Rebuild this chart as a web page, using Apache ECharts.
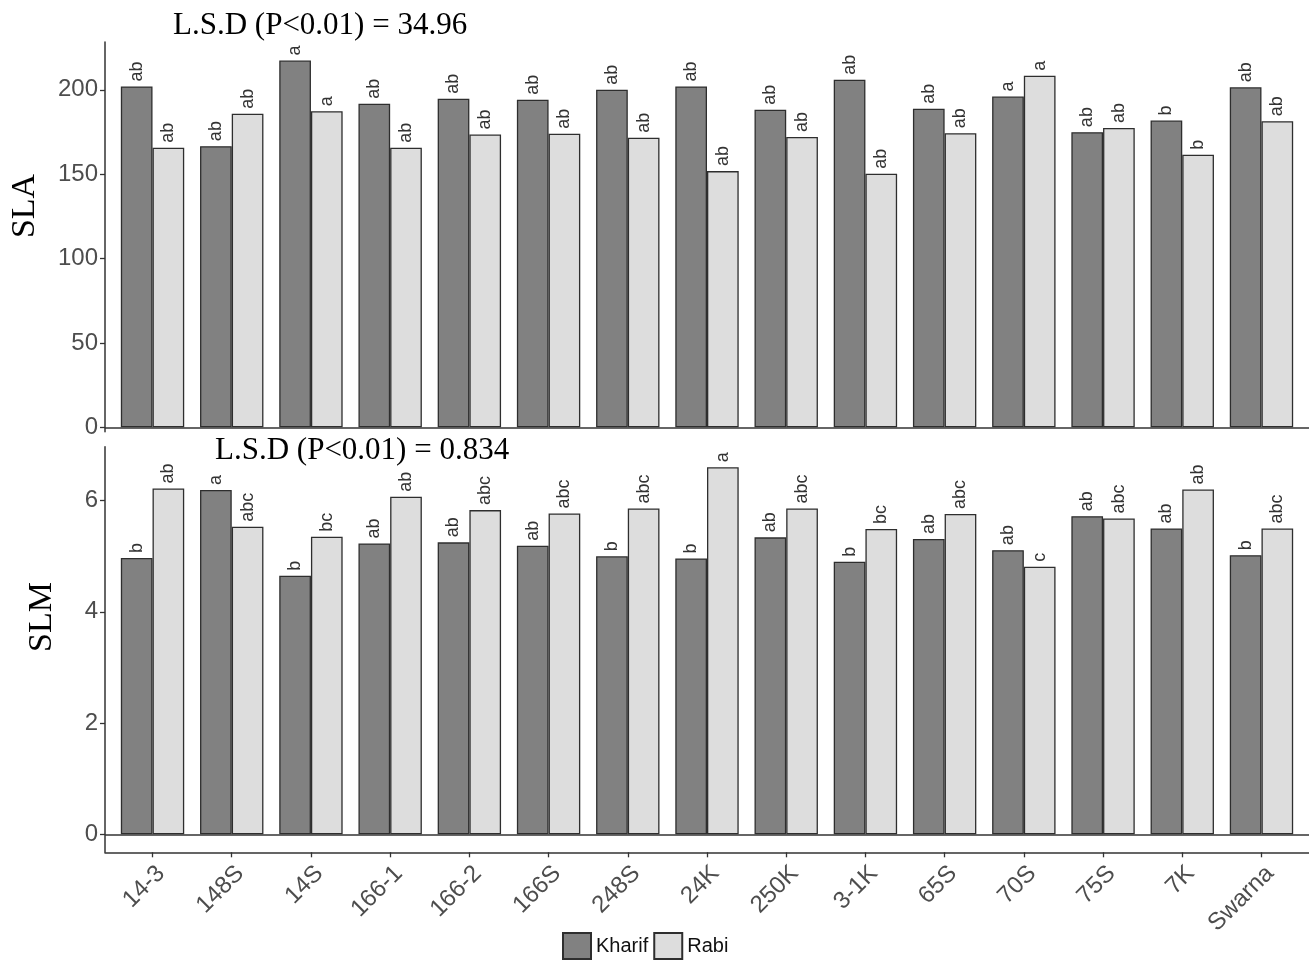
<!DOCTYPE html>
<html>
<head>
<meta charset="utf-8">
<script src="https://cdn.jsdelivr.net/npm/echarts@6/dist/echarts.min.js"></script>
<style>
  html, body { margin: 0; padding: 0; background: #fff; }
  #chart { width: 1309px; height: 960px; }
</style>
</head>
<body>
<div id="chart"></div>
<script>
// 品种
const categories = ['14-3', '148S', '14S', '166-1', '166-2', '166S', '248S', '24K', '250K', '3-1K', '65S', '70S', '75S', '7K', 'Swarna'];

// SLA (上图)
const slaKharif = [202, 166.6, 217.3, 191.7, 194.7, 194.1, 200, 202, 188.2, 205.9, 188.8, 196, 174.9, 181.8, 201.5];
const slaRabi = [165.7, 185.8, 187.3, 165.7, 173.5, 174, 171.6, 151.8, 172, 150.3, 174.3, 208.3, 177.3, 161.5, 181.4];
const slaKharifLetters = ['ab', 'ab', 'a', 'ab', 'ab', 'ab', 'ab', 'ab', 'ab', 'ab', 'ab', 'a', 'ab', 'b', 'ab'];
const slaRabiLetters = ['ab', 'ab', 'a', 'ab', 'ab', 'ab', 'ab', 'ab', 'ab', 'ab', 'ab', 'a', 'ab', 'b', 'ab'];
const slaTicks = [0, 50, 100, 150, 200];

// SLM (下图)
const slmKharif = [4.97, 6.19, 4.65, 5.23, 5.25, 5.19, 5.0, 4.96, 5.34, 4.90, 5.31, 5.11, 5.72, 5.50, 5.02];
const slmRabi = [6.22, 5.53, 5.35, 6.07, 5.83, 5.77, 5.86, 6.6, 5.86, 5.49, 5.76, 4.81, 5.68, 6.20, 5.50];
const slmKharifLetters = ['b', 'a', 'b', 'ab', 'ab', 'ab', 'b', 'b', 'ab', 'b', 'ab', 'ab', 'ab', 'ab', 'b'];
const slmRabiLetters = ['ab', 'abc', 'bc', 'ab', 'abc', 'abc', 'abc', 'a', 'abc', 'bc', 'abc', 'c', 'abc', 'ab', 'abc'];
const slmTicks = [0, 2, 4, 6];

const seasons = ['Kharif', 'Rabi'];
const seasonColors = { Kharif: '#818181', Rabi: '#dddddd' };

const SANS = '"Liberation Sans", Arial, sans-serif';
const SERIF = '"Liberation Serif", "Times New Roman", serif';
const AXIS_COLOR = '#333';

const chart = echarts.init(document.getElementById('chart'));

function barSeries(name, values, letters, gridIdx, withZeroLine) {
    const s = {
        name: name,
        type: 'bar',
        xAxisIndex: gridIdx,
        yAxisIndex: gridIdx,
        data: values.map((v, i) => [i, v]),
        barWidth: 31.7,
        barGap: '0%',
        itemStyle: { color: seasonColors[name], borderColor: '#2e2e2e', borderWidth: 1.3 },
        label: {
            show: true,
            position: 'top',
            rotate: 90,
            align: 'left',
            verticalAlign: 'middle',
            distance: 5,
            fontFamily: SANS,
            fontSize: 18,
            color: '#333',
            formatter: p => letters[p.dataIndex]
        }
    };
    // 0 处的横线
    if (withZeroLine) {
        s.markLine = {
            silent: true,
            symbol: 'none',
            label: { show: false },
            lineStyle: { color: AXIS_COLOR, width: 1.5, type: 'solid' },
            data: [{ yAxis: 0 }]
        };
    }
    return s;
}

function yAxisFor(gridIdx, min, max, ticks) {
    return {
        type: 'value',
        gridIndex: gridIdx,
        min: min,
        max: max,
        splitLine: { show: false },
        axisLine: { show: true, onZero: false, lineStyle: { color: AXIS_COLOR, width: 1.5 } },
        axisTick: { show: true, length: 5, customValues: ticks, lineStyle: { color: AXIS_COLOR, width: 1.3 } },
        axisLabel: { customValues: ticks, fontFamily: SANS, fontSize: 24, color: '#4d4d4d', margin: 7 }
    };
}

const catIdx = categories.map((c, i) => i);

const option = {
    animation: false,
    backgroundColor: '#fff',
    title: [
        { text: 'L.S.D (P<0.01) = 34.96', left: 173, top: 10, padding: 0,
          textStyle: { fontFamily: SERIF, fontSize: 31, fontWeight: 'normal', color: '#000' } },
        { text: 'L.S.D (P<0.01) = 0.834', left: 215, top: 435, padding: 0,
          textStyle: { fontFamily: SERIF, fontSize: 31, fontWeight: 'normal', color: '#000' } }
    ],
    graphic: [
        { type: 'text', x: 25, y: 206, rotation: Math.PI / 2,
          style: { text: 'SLA', font: '34px ' + SERIF, fill: '#000', align: 'center', verticalAlign: 'middle' } },
        { type: 'text', x: 42, y: 617, rotation: Math.PI / 2,
          style: { text: 'SLM', font: '34px ' + SERIF, fill: '#000', align: 'center', verticalAlign: 'middle' } }
    ],
    legend: {
        data: seasons,
        left: 562,
        top: 932,
        padding: 0,
        itemWidth: 28,
        itemHeight: 26,
        itemGap: 5,
        icon: 'rect',
        textStyle: { fontFamily: SANS, fontSize: 20, color: '#111' }
    },
    grid: [
        { left: 105, right: 0, top: 42, bottom: 960 - 431.7 },
        { left: 105, right: 0, top: 446.7, bottom: 960 - 852.3 }
    ],
    xAxis: [
        { type: 'value', gridIndex: 0, min: -0.6, max: 14.6, show: false },
        {
            type: 'value',
            gridIndex: 1,
            min: -0.6,
            max: 14.6,
            splitLine: { show: false },
            axisLine: { show: true, onZero: false, lineStyle: { color: AXIS_COLOR, width: 1.5 } },
            axisTick: { show: true, length: 5, customValues: catIdx, lineStyle: { color: AXIS_COLOR, width: 1.3 } },
            axisLabel: {
                customValues: catIdx,
                formatter: v => categories[Math.round(v)],
                rotate: 45,
                verticalAlign: 'top',
                margin: 9,
                fontFamily: SANS,
                fontSize: 24,
                color: '#4d4d4d'
            }
        }
    ],
    yAxis: [
        yAxisFor(0, -2.6, 228.3, slaTicks),
        yAxisFor(1, -0.324, 6.97, slmTicks)
    ],
    series: [
        barSeries('Kharif', slaKharif, slaKharifLetters, 0, true),
        barSeries('Rabi', slaRabi, slaRabiLetters, 0, false),
        barSeries('Kharif', slmKharif, slmKharifLetters, 1, true),
        barSeries('Rabi', slmRabi, slmRabiLetters, 1, false)
    ]
};

chart.setOption(option);
</script>
</body>
</html>
